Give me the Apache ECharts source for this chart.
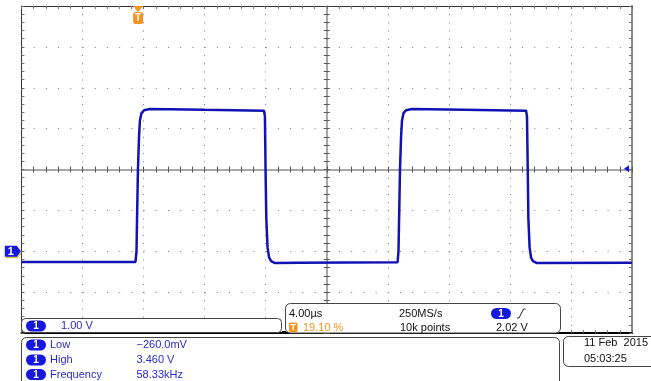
<!DOCTYPE html>
<html><head><meta charset="utf-8">
<script src="https://cdn.jsdelivr.net/npm/echarts@6/dist/echarts.min.js"></script>
<style>html,body{margin:0;padding:0;background:#fff}#c{width:651px;height:381px}</style>
</head><body><div id="c"></div>
<script>
// time in microseconds from left edge of screen (4.00 us/div, 10 div)
const timeUs = [0, 7.47, 7.535, 7.58, 7.63, 7.70, 7.76, 7.86, 8.03, 8.42, 12.0, 15.89,
  15.95, 15.99, 16.04, 16.12, 16.22, 16.35, 16.61, 18.25, 24.64,
  24.70, 24.75, 24.80, 24.87, 24.93, 25.03, 25.19, 25.59, 29.0, 33.06,
  33.12, 33.17, 33.21, 33.29, 33.38, 33.51, 33.78, 40];
// channel 1 voltage (1.00 V/div)
const volts = [-0.26, -0.26, 0.0, 1.0, 2.0, 2.8, 3.2, 3.38, 3.45, 3.48, 3.46, 3.44,
  3.3, 2.0, 0.8, 0.1, -0.15, -0.24, -0.29, -0.28, -0.27,
  0.0, 1.0, 2.0, 2.8, 3.2, 3.38, 3.45, 3.48, 3.46, 3.44,
  3.3, 2.0, 0.8, 0.1, -0.15, -0.24, -0.29, -0.28];
const timeRange = [0, 40];       // us across screen
const voltRange = [-2, 6];       // V, ground 2 div below centre
const triggerPct = 19.10;        // trigger position %
const triggerLevel = 2.02;       // V
const scaleLabel = ['1.00 V'];
const timebaseRow1 = ['4.00µs', '250MS/s'];
const timebaseRow2 = ['19.10 %', '10k points', '2.02 V'];
const measNames = ['Low', 'High', 'Frequency'];
const measValues = ['−260.0mV', '3.460 V', '58.33kHz'];
const dateLines = ['11 Feb  2015', '05:03:25'];

const FONT = '11px "Liberation Sans", Arial, sans-serif';
const BLUE_T = '#2a2ad2', PILL = '#1717e2', ORANGE = '#f7931e';
const G = {left: 21.5, top: 6, width: 610.5, height: 327};

function borderAxis(pos, lineColor, lineWidth, extra) {
  return Object.assign({
    type: 'value', position: pos,
    axisLine: {show: true, onZero: false, lineStyle: {color: lineColor, width: lineWidth}},
    axisTick: {show: true, inside: true, length: 3, lineStyle: {color: '#666'}},
    minorTick: {show: true, splitNumber: 5, length: 3, lineStyle: {color: '#777'}},
    axisLabel: {show: false}, splitLine: {show: false}
  }, extra);
}
function centerAxis(pos, gridIndex, min, max, showLine) {
  return {
    type: 'value', gridIndex, position: pos, min, max, interval: 1,
    axisLine: {show: showLine, onZero: true, lineStyle: {color: '#8a8a8a', width: 1.5}},
    axisTick: {show: true, inside: false, length: 3, lineStyle: {color: '#555'}},
    minorTick: {show: true, splitNumber: 5, length: 3, lineStyle: {color: '#555'}},
    axisLabel: {show: false}, splitLine: {show: false}
  };
}

const xSpan = timeRange[1] - timeRange[0];
const xMinorPx = G.width / 50, yMinorPx = G.height / 40;

const xAxis = [
  borderAxis('bottom', '#000', 2, {gridIndex: 0, min: timeRange[0], max: timeRange[1], interval: 4,
    splitLine: {show: true, lineStyle: {color: '#7a7a7a', width: 1, type: [1, yMinorPx - 1]}}}),
  borderAxis('top', '#333', 1, {gridIndex: 0, min: timeRange[0], max: timeRange[1], interval: 4}),
  centerAxis('bottom', 1, -5, 5, true),
  centerAxis('top', 2, -5, 5, false)
];
const yAxis = [
  borderAxis('left', '#333', 1, {gridIndex: 0, min: voltRange[0], max: voltRange[1], interval: 1,
    splitLine: {show: true, lineStyle: {color: '#7a7a7a', width: 1, type: [1, xMinorPx - 1]}}}),
  borderAxis('right', '#8a8a8a', 2, {gridIndex: 0, min: voltRange[0], max: voltRange[1], interval: 1}),
  centerAxis('left', 1, -4, 4, true),
  centerAxis('right', 2, -4, 4, false)
];

const trigX = timeRange[0] + xSpan * triggerPct / 100;

function rrect(x, y, w, h, r, fill, stroke, lw) {
  return {type: 'rect', z: 100, shape: {x, y, width: w, height: h, r},
    style: {fill, stroke: stroke || null, lineWidth: lw || 1}};
}
function txt(x, y, text, fill, font, align) {
  return {type: 'text', z: 102, x, y, style: {text, fill, font: font || FONT,
    verticalAlign: 'middle', align: align || 'left'}};
}
function pill(x, y) {
  return [rrect(x, y, 20, 11, 5.5, PILL),
    txt(x + 10, y + 5.8, '1', '#fff', 'bold 10px "Liberation Sans", Arial, sans-serif', 'center')];
}

const graphic = [];
// scale panel
graphic.push(rrect(21.5, 318.5, 260, 14, 4, '#fff', '#444', 1));
graphic.push(...pill(26, 320.5));
graphic.push(txt(61, 326, scaleLabel[0], BLUE_T));
graphic.push({type: 'rect', z: 101, shape: {x: 282, y: 331, width: 4, height: 3}, style: {fill: '#000'}});
// timebase panel
graphic.push(rrect(285.5, 303.5, 275, 29.5, 5, '#fff', '#444', 1));
graphic.push(txt(289, 313.5, timebaseRow1[0], '#111'));
graphic.push(txt(399, 313.5, timebaseRow1[1], '#111'));
graphic.push(...pill(491, 308));
graphic.push({type: 'polyline', z: 102, shape: {points: [[517, 318], [519, 318], [523.5, 309], [525.5, 309]]},
  style: {stroke: '#222', lineWidth: 1, fill: null}});
graphic.push(rrect(289, 322.5, 8.5, 9.5, 1.5, ORANGE));
graphic.push(txt(293.3, 327.6, 'T', '#fff', 'bold 9px "Liberation Sans", Arial, sans-serif', 'center'));
graphic.push(txt(303, 327.5, timebaseRow2[0], ORANGE));
graphic.push(txt(400, 327.5, timebaseRow2[1], '#111'));
graphic.push(txt(496, 327.5, timebaseRow2[2], '#111'));
// measurement panel
graphic.push(rrect(21.5, 337.5, 538, 60, 5, '#fff', '#444', 1));
const rowY = [345, 360, 374.5];
measNames.forEach((n, i) => {
  graphic.push(...pill(26, rowY[i] - 5.5));
  graphic.push(txt(50, rowY[i], n, BLUE_T));
  graphic.push(txt(136.5, rowY[i], measValues[i], BLUE_T));
});
// date panel
graphic.push(rrect(563.5, 336.5, 100, 30, 5, '#fff', '#444', 1));
graphic.push(txt(584, 342.5, dateLines[0], '#111'));
graphic.push(txt(584, 359, dateLines[1], '#111'));

const chart = echarts.init(document.getElementById('c'), null, {renderer: 'canvas'});
chart.setOption({
  animation: false,
  backgroundColor: '#fff',
  grid: [Object.assign({}, G), Object.assign({}, G), Object.assign({}, G)],
  xAxis, yAxis,
  graphic,
  series: [{
    type: 'line', xAxisIndex: 0, yAxisIndex: 0, showSymbol: false, z: 5,
    data: timeUs.map((t, i) => [t, volts[i]]),
    lineStyle: {color: '#1212b4', width: 2.5},
    itemStyle: {color: '#1212b4'},
    markPoint: {
      silent: true,
      data: [
        {coord: [timeRange[0], 0], symbol: 'path://M0,0 L12,0 L16,5.5 L12,11 L0,11 Z', symbolSize: [16, 11],
          symbolOffset: [-8.7, 0],
          itemStyle: {color: PILL, shadowColor: 'rgba(200,185,40,0.8)', shadowOffsetX: 1, shadowOffsetY: 1.5, shadowBlur: 0},
          label: {show: true, formatter: '1', color: '#fff', fontSize: 11, fontWeight: 'bold', offset: [-2, 0.5],
            fontFamily: 'Liberation Sans'}},
        {coord: [trigX, voltRange[1]], symbol: 'triangle', symbolRotate: 180, symbolSize: [10, 6],
          symbolOffset: [0, 3], itemStyle: {color: ORANGE}, label: {show: false}},
        {coord: [trigX, voltRange[1]], symbol: 'roundRect', symbolSize: [10, 12],
          symbolOffset: [0, 12], itemStyle: {color: ORANGE},
          label: {show: true, position: 'inside', formatter: 'T', color: '#fff', fontSize: 10, fontWeight: 'bold',
            fontFamily: 'Liberation Sans'}},
        {coord: [timeRange[1], triggerLevel], symbol: 'path://M0,3.5 L6,0 L6,7 Z', symbolSize: [5, 7],
          symbolOffset: [-5.5, 0], itemStyle: {color: PILL}, label: {show: false}}
      ]
    }
  }]
});
</script></body></html>
